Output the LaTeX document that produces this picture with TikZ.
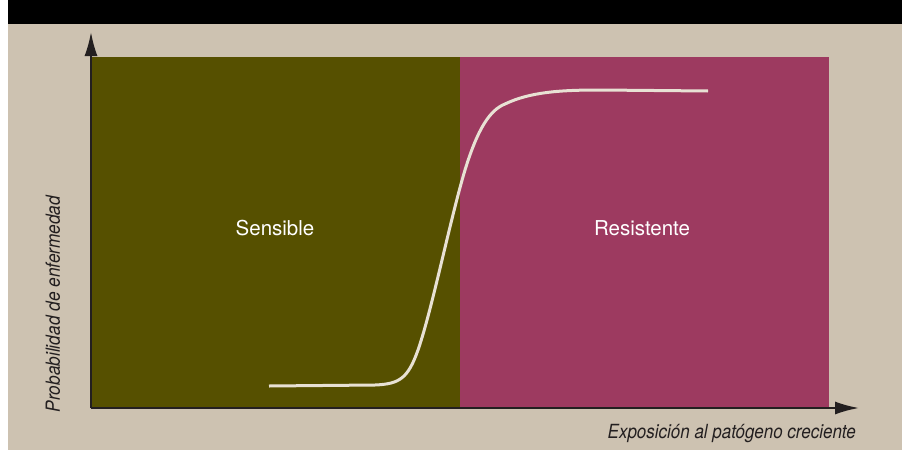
\documentclass[tikz,border=0pt]{standalone}
\usepackage{fontspec}
\setmainfont{TeX Gyre Heros}
\usetikzlibrary{arrows.meta}
\definecolor{bgbeige}{RGB}{205,194,177}
\definecolor{olivegreen}{RGB}{86,80,0}
\definecolor{rosepink}{RGB}{157,58,96}
\definecolor{curvecol}{RGB}{232,225,212}
\definecolor{axiscol}{RGB}{35,31,32}
\tikzset{
  region/.style={draw=none, minimum width=#1, minimum height=351pt, inner sep=0pt, anchor=north west},
  regionlabel/.style={text=white, font=\fontsize{20.5}{24}\selectfont},
  axislabel/.style={text=axiscol, font=\fontsize{19.5}{22}\selectfont\itshape, inner sep=0pt},
  axisline/.style={draw=axiscol, line width=2pt, -{Latex[length=24pt,width=13pt]}},
}
\begin{document}
\begin{tikzpicture}[x=1pt,y=-1pt]
\useasboundingbox (0,0) rectangle (902,450);
\fill[white] (0,0) rectangle (902,450);
\fill[bgbeige] (8,0) rectangle (902,450);
\fill[black] (8,0) rectangle (902,24);
\node[region=369pt, fill=olivegreen] (sens) at (91,57) {};
\node[region=369pt, fill=rosepink] (res) at (460,57) {};
\node[regionlabel] (lsens) at (275,228) {Sensible};
\node[regionlabel] (lres) at (642,228) {Resistente};
\coordinate (origin) at (91,408);
\coordinate (ytip) at (91,32);
\coordinate (xtip) at (859,408);
\draw[axisline] (origin) -- (ytip);
\draw[axisline] (origin) -- (xtip);
\draw[curvecol, line width=3pt]
  (269,386) -- (375,385)
  .. controls (400,384) and (408,378) .. (418,350)
  .. controls (432,310) and (450,220) .. (465,170)
  .. controls (478,128) and (490,110) .. (505,104)
  .. controls (530,92) and (560,90) .. (600,90)
  -- (708,91);
\node[axislabel, anchor=east] (xlab) at (856,434) {\scalebox{0.871}[1]{Exposición al patógeno creciente}};
\node[axislabel, rotate=90] (ylab) at (53,304) {\scalebox{0.886}[1]{Probabilidad de enfermedad}};
\end{tikzpicture}
\end{document}
